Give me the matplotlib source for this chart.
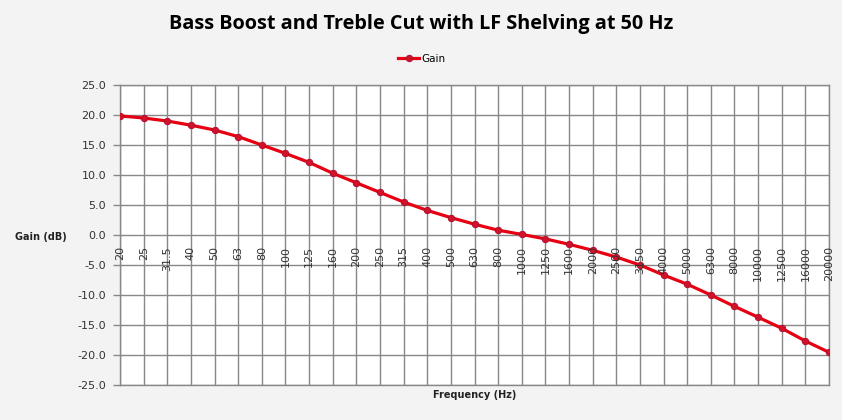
import matplotlib
matplotlib.use("Agg")
import matplotlib.pyplot as plt
import matplotlib.transforms as mtransforms

freq_labels = ["20", "25", "31.5", "40", "50", "63", "80", "100", "125", "160",
               "200", "250", "315", "400", "500", "630", "800", "1000", "1250", "1600",
               "2000", "2500", "3150", "4000", "5000", "6300", "8000", "10000", "12500",
               "16000", "20000"]
gain_db = [19.85, 19.5, 19.0, 18.3, 17.5, 16.4, 15.0, 13.6, 12.1, 10.3,
           8.7, 7.1, 5.5, 4.1, 2.9, 1.8, 0.8, 0.1, -0.65, -1.55,
           -2.55, -3.67, -5.0, -6.67, -8.2, -10.0, -11.9, -13.7, -15.55,
           -17.67, -19.55]
y_ticks = [25, 20, 15, 10, 5, 0, -5, -10, -15, -20, -25]

title = "Bass Boost and Treble Cut with LF Shelving at 50 Hz"
series_name = "Gain"

fig = plt.figure(figsize=(8.42, 4.2), dpi=100)
fig.patch.set_facecolor("#f3f3f3")
ax = fig.add_axes([120/842, 1-385/420, (829-120)/842, 300/420])
ax.set_facecolor("white")

grid_c = "#888888"
x = list(range(len(freq_labels)))
ax.plot(x, gain_db, color="#e60012", lw=2.3, marker="o", ms=4.6,
        mfc="#d3122a", mec="#b01030", mew=0.7, label=series_name, zorder=3)

ax.set_xlim(0, len(freq_labels) - 1)
ax.set_ylim(-25, 25)
ax.set_yticks(y_ticks)
ax.set_yticklabels([f"{v:.1f}" for v in y_ticks], fontsize=8, color="#333333")
ax.set_xticks(x)
ax.set_xticklabels([])
ax.tick_params(axis="x", length=0)
ax.tick_params(axis="y", length=5, color=grid_c, width=1, pad=5)
ax.grid(True, color=grid_c, lw=1)
ax.set_axisbelow(True)
for s in ax.spines.values():
    s.set_color(grid_c)
    s.set_linewidth(1)

# category labels just below the zero line
trans = mtransforms.blended_transform_factory(ax.transData, ax.transData)
offset = mtransforms.ScaledTranslation(0, -11/100, fig.dpi_scale_trans)
for i, lab in enumerate(freq_labels):
    ax.text(i, 0, lab, rotation=90, ha="center", va="top", fontsize=8,
            color="#333333", transform=trans + offset)

fig.text(0.5, 1-24/420, title, ha="center", va="center", fontsize=14.3,
         fontweight="bold", family="Open Sans", color="black")
fig.text(474.5/842, 1-395/420, "Frequency (Hz)", ha="center", va="center",
         fontsize=7, fontweight="bold", color="#222222")
fig.text(41/842, 1-237/420, "Gain (dB)", ha="center", va="center",
         fontsize=7, fontweight="bold", color="#222222")

leg = fig.legend(loc="center", bbox_to_anchor=(422/842, 1-59/420), frameon=False,
                 fontsize=7.5, handlelength=2.0, handletextpad=0.2)

fig.savefig("out.png", dpi=100, facecolor=fig.get_facecolor())
